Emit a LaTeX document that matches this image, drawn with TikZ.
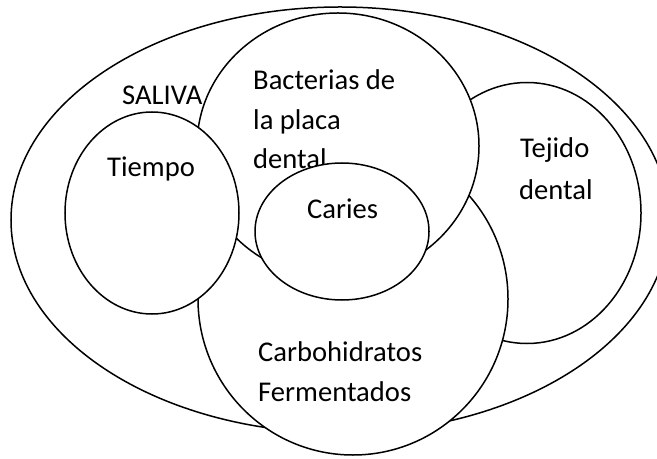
\documentclass[tikz,border=0pt]{standalone}
\usepackage{fontspec}
\setmainfont{Carlito}
\usetikzlibrary{shapes.geometric}
\begin{document}
\begin{tikzpicture}[x=1bp,y=-1bp,
  blob/.style={ellipse,draw=black,line width=1.5bp,fill=white,inner sep=0pt},
  lbl/.style={anchor=base west,inner sep=0pt,font=\fontsize{28.6bp}{39bp}\selectfont}]
\useasboundingbox (0,0) rectangle (657,459);
\clip (0,0) rectangle (657,459);
\fill[white] (0,0) rectangle (657,459);
% outer
\node[blob,minimum width=658bp,minimum height=426bp] (saliva) at (340,220) {};
\node[lbl] (tsaliva) at (122,105) {SALIVA};
% tejido
\node[blob,minimum width=228bp,minimum height=261bp] (tejido) at (527,213) {};
\node[lbl] (ttej1) at (520,158) {Tejido};
\node[lbl] (ttej2) at (519,200) {dental};
% carbohidratos
\node[blob,minimum width=310bp,minimum height=312bp] (carbo) at (353,299) {};
\node[lbl] (tcar1) at (258,361) {Carbohidratos};
\node[lbl] (tcar2) at (258,401) {Fermentados};
% bacterias
\node[blob,minimum width=282bp,minimum height=266bp] (bact) at (338,146) {};
\node[lbl] (tbac1) at (253,90) {Bacterias de};
\node[lbl] (tbac2) at (253,130) {la placa};
\node[lbl] (tbac3) at (253,169) {dental};
% tiempo
\node[blob,minimum width=174bp,minimum height=202bp] (tiempo) at (152,213) {};
\node[lbl] (ttie) at (107,177) {Tiempo};
% caries
\node[blob,minimum width=174bp,minimum height=137bp] (caries) at (342,231.5) {};
\node[lbl] (tcari) at (307,219) {Caries};
\end{tikzpicture}
\end{document}
